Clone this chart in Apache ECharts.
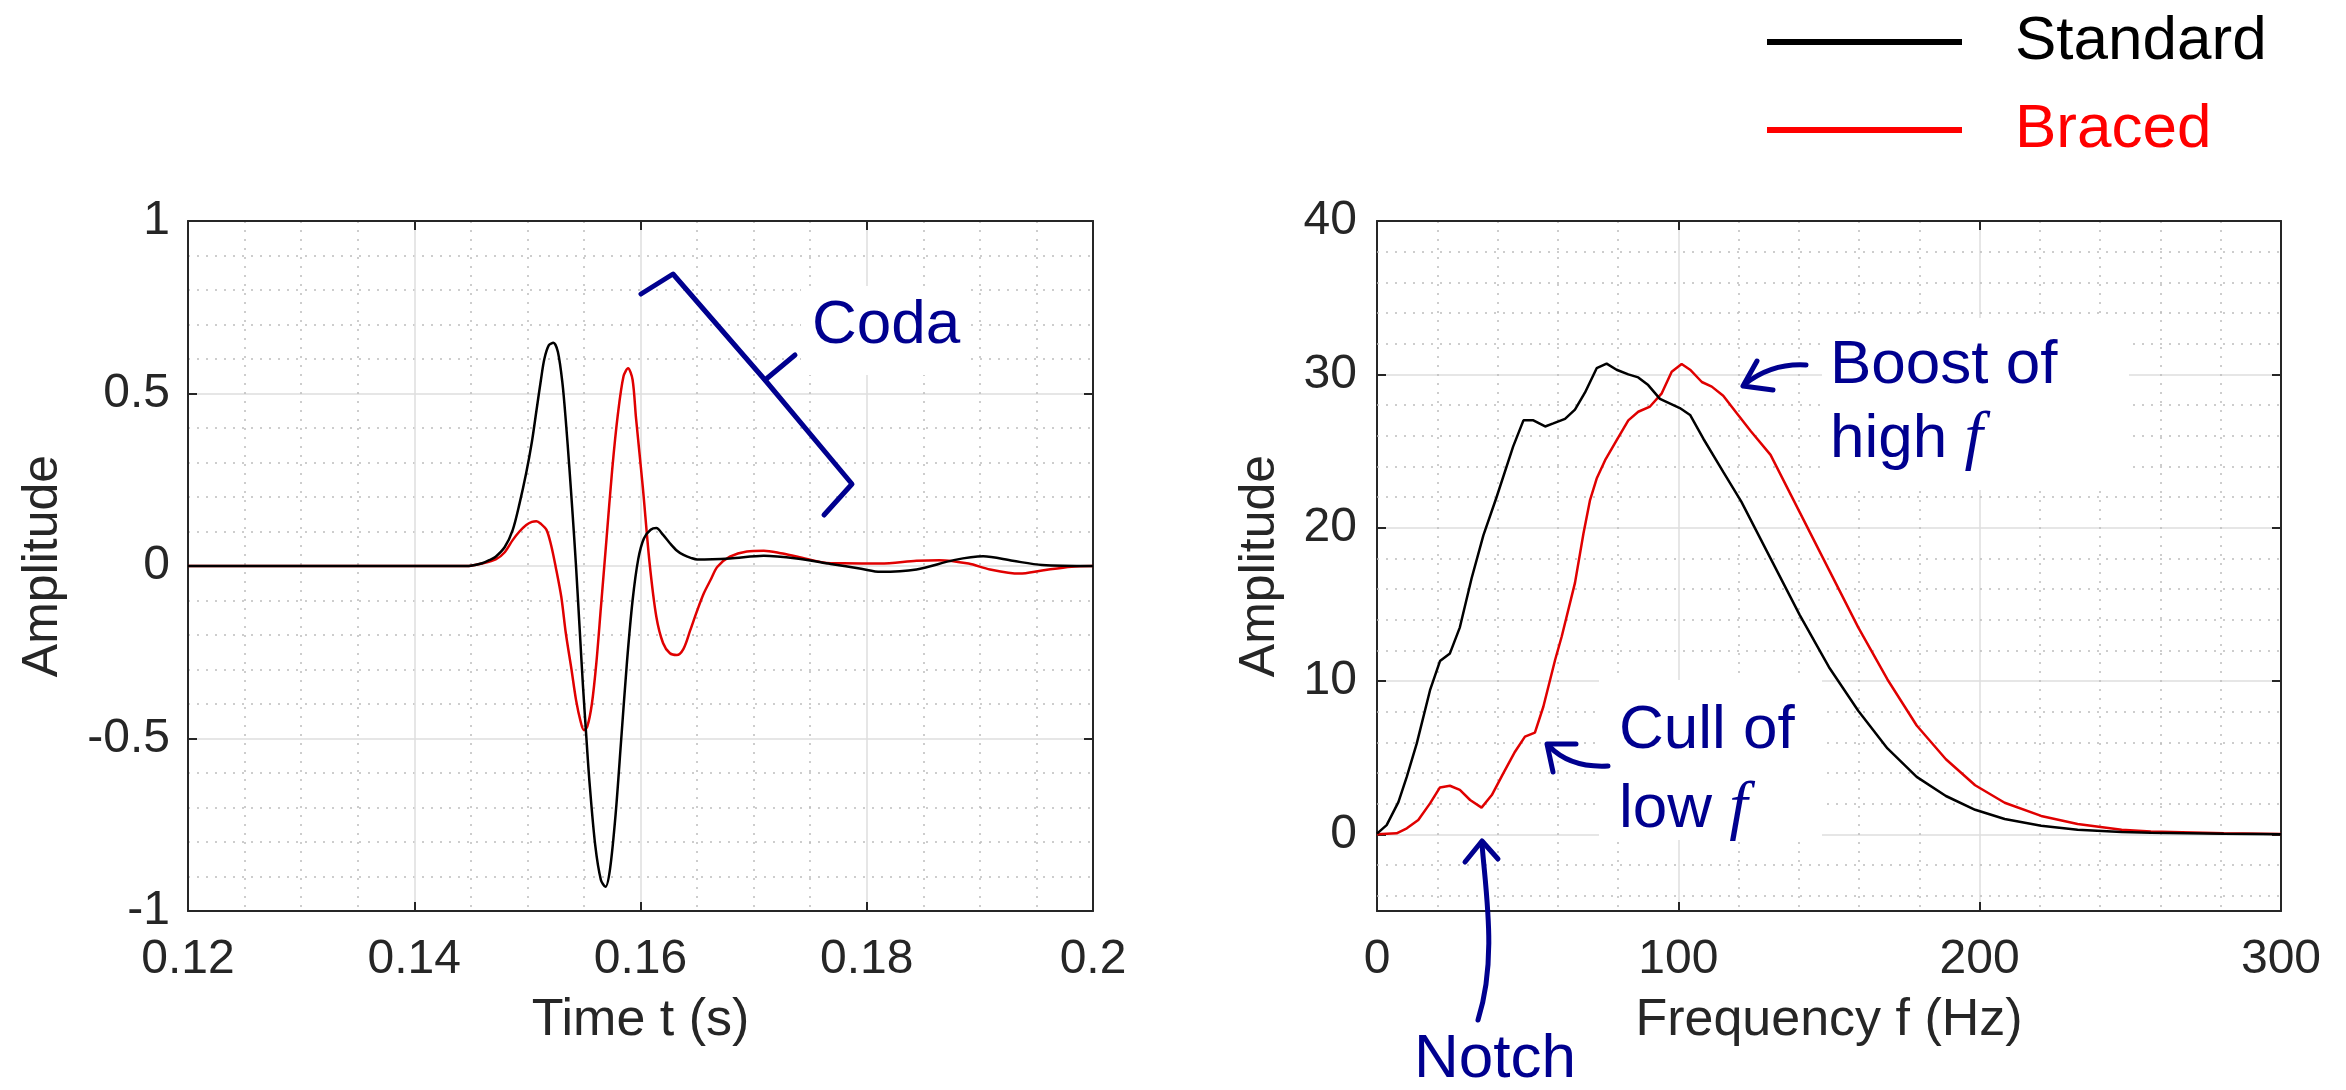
<!DOCTYPE html>
<html>
<head>
<meta charset="utf-8">
<script src="https://cdn.jsdelivr.net/npm/echarts@6/dist/echarts.min.js"></script>
<style>html,body{margin:0;padding:0;background:#fff}#c{width:2346px;height:1090px}</style>
</head>
<body>
<div id="c"></div>
<script>
// ---------- data ----------
const seriesNames = ['Standard', 'Braced'];

const timeStd = [0.120,0.144,0.1450,0.1460,0.1467,0.1472,0.1480,0.1487,0.1493,0.1499,0.1504,0.1508,0.1512,0.1515,0.1519,0.1523,0.1527,0.1531,0.1534,0.1537,0.1540,0.1543,0.1546,0.1549,0.1552,0.1555,0.1560,0.1565,0.1569,0.1573,0.1578,0.1583,0.1588,0.1593,0.1598,0.1603,0.1609,0.1614,0.1620,0.1626,0.1632,0.1638,0.1645,0.1650,0.1679,0.1709,0.1738,0.1768,0.1795,0.1812,0.1844,0.1877,0.1903,0.1929,0.1955,0.2000];
const ampStd  = [0,0,0.001,0.008,0.018,0.027,0.055,0.104,0.18,0.27,0.36,0.45,0.54,0.60,0.64,0.647,0.62,0.53,0.42,0.29,0.15,0.0,-0.17,-0.34,-0.49,-0.63,-0.81,-0.91,-0.93,-0.88,-0.72,-0.50,-0.28,-0.10,0.02,0.08,0.105,0.11,0.09,0.066,0.045,0.032,0.023,0.019,0.022,0.030,0.022,0.006,-0.008,-0.017,-0.010,0.017,0.028,0.015,0.003,0];

const timeBr = [0.120,0.144,0.1450,0.1460,0.1472,0.1480,0.1487,0.1493,0.1499,0.1504,0.1508,0.1512,0.1517,0.1521,0.1525,0.1530,0.1534,0.1539,0.1543,0.1547,0.1550,0.1553,0.1557,0.1561,0.1565,0.1570,0.1575,0.1580,0.1585,0.1589,0.1593,0.1596,0.1602,0.1608,0.1614,0.1620,0.1626,0.1632,0.1638,0.1644,0.1650,0.1656,0.1662,0.1668,0.1679,0.1694,0.1709,0.1724,0.1739,0.1768,0.1779,0.1812,0.1844,0.1864,0.1890,0.1909,0.1935,0.1955,0.1981,0.2000];
const ampBr  = [0,0,0.001,0.007,0.019,0.040,0.075,0.100,0.119,0.128,0.130,0.122,0.104,0.060,-0.002,-0.090,-0.195,-0.300,-0.388,-0.450,-0.476,-0.465,-0.400,-0.280,-0.120,0.080,0.280,0.440,0.550,0.573,0.540,0.430,0.230,0.010,-0.147,-0.224,-0.253,-0.258,-0.240,-0.186,-0.130,-0.079,-0.040,-0.002,0.027,0.042,0.044,0.037,0.027,0.008,0.008,0.007,0.015,0.017,0.007,-0.010,-0.022,-0.013,-0.002,0];

const freqStd = [0,3.2,7.1,9.9,13.2,17.6,20.9,24.2,27.5,31.4,35.3,39.7,45.2,48.6,51.9,55.8,58.5,62.4,65.7,69.0,72.9,76.2,79.5,83.4,86.7,90.0,93.9,100.5,103.9,108.3,115.0,120.9,130.6,140.3,150.0,159.7,169.4,179.1,188.8,198.5,208.3,220.4,232.5,247.1,256.8,281.0,300.0];
const specStd = [0.05,0.6,2.1,3.76,5.93,9.4,11.3,11.8,13.5,16.7,19.5,22.0,25.3,27.0,27.0,26.6,26.8,27.1,27.7,28.8,30.4,30.7,30.3,30.0,29.8,29.3,28.4,27.8,27.35,25.8,23.6,21.7,18.0,14.3,10.9,8.06,5.6,3.75,2.5,1.6,1.0,0.56,0.3,0.15,0.11,0.04,0.01];

const freqBr = [0,6.5,9.9,13.7,17.6,20.9,24.2,27.5,30.9,34.7,38.1,41.9,45.8,49.1,52.4,55.2,59.1,61.3,65.7,68.5,70.7,72.9,75.7,79.5,83.4,86.7,90.6,94.5,97.8,101.1,103.9,107.8,111.1,114.9,119.4,124.0,130.6,140.3,150.0,159.7,169.4,179.1,188.8,198.5,208.3,220.4,232.5,247.1,256.8,281.0,300.0];
const specBr = [0,0.07,0.39,0.93,2.02,3.06,3.17,2.9,2.24,1.74,2.56,3.98,5.39,6.37,6.63,8.32,11.37,12.9,16.4,19.6,21.8,23.2,24.4,25.7,27.0,27.56,27.9,28.76,30.17,30.67,30.3,29.5,29.2,28.6,27.46,26.3,24.75,21.0,17.25,13.5,10.1,7.1,4.9,3.2,2.06,1.2,0.67,0.3,0.19,0.07,0.02];

// minor grid values of the spectrum amplitude axis
const specMinorTicks = [-4,-2,2,4,6,8,12,14,16,18,22,24,26,28,32,34,36,38];

// ---------- styling ----------
const F = 'Liberation Sans, Arial, Helvetica, sans-serif';
const AX = '#262626';
const NAVY = '#00008f';
const MAJ = '#dedede';
const MIN = '#bdbdbd';

function zip(a, b) { return a.map((v, i) => [v, b[i]]); }

function mainX(grid, min, max, interval, minorN, name) {
  return {
    gridIndex: grid, type: 'value', min, max, interval, position: 'bottom',
    name, nameLocation: 'middle', nameGap: 84,
    nameTextStyle: { fontSize: 52, color: AX, fontFamily: F },
    axisLine: { show: true, onZero: false, lineStyle: { color: AX, width: 2 } },
    axisTick: { show: true, inside: true, length: 9, lineStyle: { color: AX, width: 2 } },
    axisLabel: { fontSize: 48, color: AX, fontFamily: F, margin: 25 },
    splitLine: { show: true, lineStyle: { color: MAJ, width: 1.5 } },
    minorTick: { show: false, splitNumber: minorN },
    minorSplitLine: { show: true, lineStyle: { color: MIN, width: 1.5, type: [2, 7] } }
  };
}
function boxX(grid, min, max, interval) {
  return {
    gridIndex: grid, type: 'value', min, max, interval, position: 'top',
    axisLine: { show: true, onZero: false, lineStyle: { color: AX, width: 2 } },
    axisTick: { show: true, inside: true, length: 9, lineStyle: { color: AX, width: 2 } },
    axisLabel: { show: false }, splitLine: { show: false }
  };
}
function mainY(grid, min, max, interval, minorN, nameGap, extra) {
  const o = {
    gridIndex: grid, type: 'value', min, max, position: 'left',
    name: 'Amplitude', nameLocation: 'middle', nameGap,
    nameTextStyle: { fontSize: 50, color: AX, fontFamily: F },
    axisLine: { show: true, onZero: false, lineStyle: { color: AX, width: 2 } },
    axisTick: { show: true, inside: true, length: 9, lineStyle: { color: AX, width: 2 } },
    axisLabel: { fontSize: 48, color: AX, fontFamily: F, margin: 18 },
    splitLine: { show: true, lineStyle: { color: MAJ, width: 1.5 } },
    minorTick: { show: false, splitNumber: minorN },
    minorSplitLine: { show: minorN > 0, lineStyle: { color: MIN, width: 1.5, type: [2, 7] } }
  };
  if (interval) o.interval = interval;
  return Object.assign(o, extra || {});
}
function boxY(grid, min, max, interval, extra) {
  const o = {
    gridIndex: grid, type: 'value', min, max, position: 'right',
    axisLine: { show: true, onZero: false, lineStyle: { color: AX, width: 2 } },
    axisTick: { show: true, inside: true, length: 9, lineStyle: { color: AX, width: 2 } },
    axisLabel: { show: false }, splitLine: { show: false }
  };
  if (interval) o.interval = interval;
  return Object.assign(o, extra || {});
}

const chart = echarts.init(document.getElementById('c'), null, { renderer: 'canvas' });

const textBase = { fill: NAVY, fontSize: 62, fontFamily: F, align: 'left', verticalAlign: 'middle' };
const richF = {
  a: { fontSize: 62, fontFamily: F, fill: NAVY, color: NAVY },
  f: { fontSize: 66, fontFamily: 'Liberation Serif, Times New Roman, serif', fontStyle: 'italic', fill: NAVY, color: NAVY }
};
const stroke = { stroke: NAVY, lineWidth: 5, fill: null, lineCap: 'round', lineJoin: 'round' };

const option = {
  animation: false,
  backgroundColor: '#fff',
  grid: [
    { left: 188, top: 221, width: 905, height: 690, outerBoundsMode: 'none', containLabel: false },
    { left: 1377, top: 221, width: 904, height: 690, outerBoundsMode: 'none', containLabel: false }
  ],
  legend: {
    orient: 'vertical', left: 1762, top: 6, itemWidth: 195, itemHeight: 6, itemGap: 26,
    icon: 'rect', selectedMode: false,
    textStyle: { fontSize: 62, fontFamily: F, padding: [0, 0, 0, 48] },
    data: [
      { name: seriesNames[0], textStyle: { color: '#000' }, itemStyle: { color: '#000' } },
      { name: seriesNames[1], textStyle: { color: '#ff0000' }, itemStyle: { color: '#ff0000' } }
    ]
  },
  xAxis: [
    mainX(0, 0.12, 0.2, 0.02, 4, 'Time t (s)'),
    boxX(0, 0.12, 0.2, 0.02),
    mainX(1, 0, 300, 100, 5, 'Frequency f (Hz)'),
    boxX(1, 0, 300, 100)
  ],
  yAxis: [
    mainY(0, -1, 1, 0.5, 5, 120),
    boxY(0, -1, 1, 0.5),
    mainY(1, -5, 40, null, 0, 92, { splitNumber: 5, axisLabel: { fontSize: 48, color: AX, fontFamily: F, margin: 20, showMinLabel: false, formatter: v => (v === -5 ? '' : String(v)) } }),
    boxY(1, -5, 40, null, { splitNumber: 5 })
  ],
  series: [
    { name: seriesNames[1], type: 'line', xAxisIndex: 0, yAxisIndex: 0, data: zip(timeBr, ampBr), color: '#e00000', showSymbol: false, symbol: 'none', smooth: 0.3, lineStyle: { width: 2.5 }, z: 3 },
    { name: seriesNames[0], type: 'line', xAxisIndex: 0, yAxisIndex: 0, data: zip(timeStd, ampStd), color: '#000', showSymbol: false, symbol: 'none', smooth: 0.3, lineStyle: { width: 2.5 }, z: 4 },
    { name: seriesNames[0], type: 'line', xAxisIndex: 2, yAxisIndex: 2, data: zip(freqStd, specStd), color: '#000', showSymbol: false, symbol: 'none', lineStyle: { width: 2.5 }, z: 4,
      markLine: { silent: true, z: 1, animation: false, symbol: ['none', 'none'], label: { show: false },
        lineStyle: { color: MIN, width: 1.5, type: [2, 7] },
        emphasis: { disabled: true },
        data: specMinorTicks.map(v => ({ yAxis: v })) } },
    { name: seriesNames[1], type: 'line', xAxisIndex: 2, yAxisIndex: 2, data: zip(freqBr, specBr), color: '#e00000', showSymbol: false, symbol: 'none', lineStyle: { width: 2.5 }, z: 3 }
  ],
  graphic: [
    // white text boxes
    { type: 'rect', z: 10, shape: { x: 801, y: 286, width: 169, height: 89 }, style: { fill: '#fff' }, silent: true },
    { type: 'rect', z: 10, shape: { x: 1822, y: 318, width: 307, height: 172 }, style: { fill: '#fff' }, silent: true },
    { type: 'rect', z: 10, shape: { x: 1599, y: 680, width: 223, height: 160 }, style: { fill: '#fff' }, silent: true },
    // texts
    { type: 'text', z: 12, style: Object.assign({ text: 'Coda', x: 812, y: 326 }, textBase), silent: true },
    { type: 'text', z: 12, style: Object.assign({ text: 'Boost of', x: 1830, y: 366 }, textBase), silent: true },
    { type: 'text', z: 12, style: Object.assign({ text: '{a|high }{f|f}', x: 1830, y: 440, rich: richF }, textBase), silent: true },
    { type: 'text', z: 12, style: Object.assign({ text: 'Cull of', x: 1619, y: 731 }, textBase), silent: true },
    { type: 'text', z: 12, style: Object.assign({ text: '{a|low }{f|f}', x: 1619, y: 810, rich: richF }, textBase), silent: true },
    { type: 'text', z: 12, style: Object.assign({ text: 'Notch', x: 1414, y: 1060 }, textBase), silent: true },
    // brace
    { type: 'polyline', z: 12, shape: { points: [[641, 294], [673, 274], [765, 380], [852, 484], [824, 515]] }, style: stroke, silent: true },
    { type: 'polyline', z: 12, shape: { points: [[765, 380], [795, 355]] }, style: stroke, silent: true },
    // boost arrow
    { type: 'bezierCurve', z: 12, shape: { x1: 1806, y1: 365, cpx1: 1772, cpy1: 363, x2: 1745, y2: 384 }, style: stroke, silent: true },
    { type: 'polyline', z: 12, shape: { points: [[1757, 361], [1743, 386], [1773, 390]] }, style: stroke, silent: true },
    // cull arrow
    { type: 'bezierCurve', z: 12, shape: { x1: 1608, y1: 766, cpx1: 1570, cpy1: 768, x2: 1549, y2: 746 }, style: stroke, silent: true },
    { type: 'polyline', z: 12, shape: { points: [[1576, 744], [1547, 744], [1553, 772]] }, style: stroke, silent: true },
    // notch arrow
    { type: 'bezierCurve', z: 12, shape: { x1: 1478, y1: 1020, cpx1: 1497, cpy1: 960, cpx2: 1486, cpy2: 895, x2: 1482, y2: 844 }, style: stroke, silent: true },
    { type: 'polyline', z: 12, shape: { points: [[1465, 862], [1482, 841], [1498, 859]] }, style: stroke, silent: true }
  ]
};

chart.setOption(option);
</script>
</body>
</html>
